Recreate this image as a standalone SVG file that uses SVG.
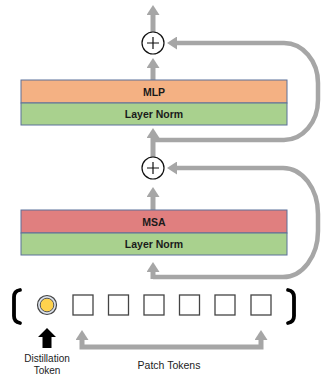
<svg xmlns="http://www.w3.org/2000/svg" width="321" height="375" viewBox="0 0 321 375">
<style>
.ar{fill:none;stroke:#a6a6a6;stroke-width:5}
.lp{fill:none;stroke:#a6a6a6;stroke-width:4.5}
.box{stroke:#5b7199;stroke-width:1}
.bt{font-family:"Liberation Sans",Arial,sans-serif;font-weight:bold;font-size:10.5px;fill:#1a1a1a;text-anchor:middle}
.lt{font-family:"Liberation Sans",Arial,sans-serif;font-size:10px;fill:#222;text-anchor:middle}
.plus{fill:#fff;stroke:#111;stroke-width:1.2}
.pl{stroke:#111;stroke-width:1.2}
.sq{fill:#fff;stroke:#444;stroke-width:1.3}
.br{fill:none;stroke:#000;stroke-width:3.8;stroke-linecap:round}
</style>
<defs>
<marker id="ah" markerUnits="userSpaceOnUse" markerWidth="10" markerHeight="13" viewBox="0 0 10 13" refX="0" refY="6.5" orient="auto-start-reverse">
<path d="M0,0 L10,6.5 L0,13 Z" fill="#a6a6a6"/>
</marker>
</defs>
<g id="connectors">
<path class="ar" d="M153 32 V15" marker-end="url(#ah)"/>
<path class="ar" d="M153 80 V68" marker-end="url(#ah)"/>
<path class="lp" d="M153 140 H284 A34 40 0 0 0 318 100 V83 A34 40 0 0 0 284 43 H177" marker-end="url(#ah)"/>
<path class="ar" d="M153 157 V138" marker-end="url(#ah)"/>
<path class="ar" d="M153 210 V197" marker-end="url(#ah)"/>
<path class="lp" d="M153 277 H283 A35 46 0 0 0 318 231 V214 A35 46 0 0 0 283 168 H177" marker-end="url(#ah)"/>
<path class="ar" d="M153 279 V272" marker-end="url(#ah)"/>
<path class="ar" d="M82 340 V347 H261 V340" marker-start="url(#ah)" marker-end="url(#ah)"/>
<path d="M47 328 L56 337 L51.5 337 L51.5 348 L42.5 348 L42.5 337 L38 337 Z" fill="#000"/>
</g>
<g id="add1">
<circle class="plus" cx="153" cy="43" r="11"/>
<path class="pl" d="M147 43 H159 M153 37 V49"/>
</g>
<g id="mlp">
<rect class="box" x="21" y="80" width="266" height="23" fill="#f4b183"/>
<text class="bt" x="154" y="95.5">MLP</text>
</g>
<g id="layernorm2">
<rect class="box" x="21" y="103" width="266" height="22" fill="#a9d18e"/>
<text class="bt" x="154" y="117.5">Layer Norm</text>
</g>
<g id="add2">
<circle class="plus" cx="153" cy="168" r="11"/>
<path class="pl" d="M147 168 H159 M153 162 V174"/>
</g>
<g id="msa">
<rect class="box" x="21" y="210" width="266" height="23" fill="#e07f7f"/>
<text class="bt" x="154" y="225.5">MSA</text>
</g>
<g id="layernorm1">
<rect class="box" x="21" y="233" width="266" height="22" fill="#a9d18e"/>
<text class="bt" x="154" y="247.5">Layer Norm</text>
</g>
<g id="tokens">
<path class="br" d="M20 290 Q14 291 14 297 V316 Q14 322 20 323"/>
<path class="br" d="M288 290 Q294 291 294 297 V316 Q294 322 288 323"/>
<circle cx="47" cy="305" r="9.5" fill="#dde3ec" stroke="#444" stroke-width="1.2"/>
<circle cx="47" cy="305" r="6.8" fill="#ffd24d" stroke="#555" stroke-width="1"/>
<rect class="sq" x="73" y="295" width="20" height="20"/>
<rect class="sq" x="108.5" y="295" width="20" height="20"/>
<rect class="sq" x="144" y="295" width="20" height="20"/>
<rect class="sq" x="179.5" y="295" width="20" height="20"/>
<rect class="sq" x="215" y="295" width="20" height="20"/>
<rect class="sq" x="251" y="295" width="20" height="20"/>
</g>
<g id="labels">
<text class="lt" x="47" y="362">Distillation</text>
<text class="lt" x="47" y="374">Token</text>
<text class="lt" x="169" y="369" style="font-size:10.5px">Patch Tokens</text>
</g>
</svg>
